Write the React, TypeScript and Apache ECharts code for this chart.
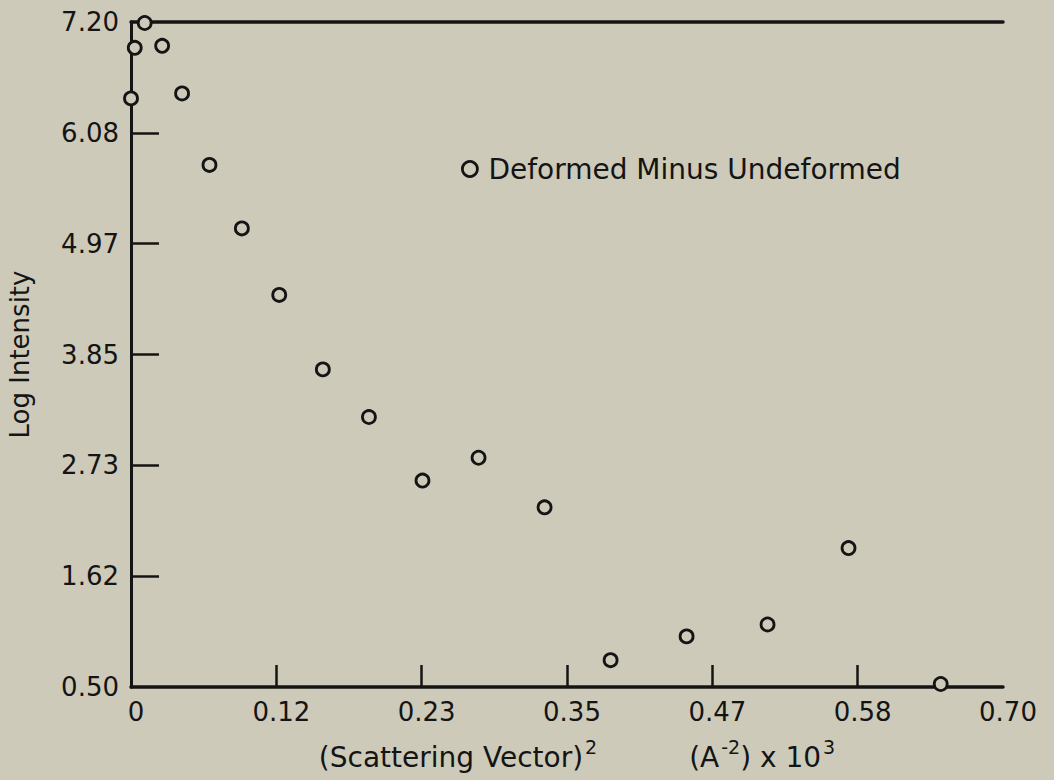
import React, { useEffect, useRef } from "react";
import * as echarts from "echarts";

// ---- data ----
const seriesName = "Deformed Minus Undeformed";
const xValues = [0.0, 0.003, 0.011, 0.025, 0.041, 0.063, 0.089, 0.119, 0.154, 0.191, 0.234, 0.279, 0.332, 0.385, 0.446, 0.511, 0.576, 0.65];
const yValues = [6.43, 6.94, 7.19, 6.96, 6.48, 5.76, 5.12, 4.45, 3.7, 3.22, 2.58, 2.81, 2.31, 0.77, 1.01, 1.13, 1.9, 0.53];
const xTickLabels = ["0", "0.12", "0.23", "0.35", "0.47", "0.58", "0.70"];
const yTickLabels = ["0.50", "1.62", "2.73", "3.85", "4.97", "6.08", "7.20"];
const xMin = 0;
const xMax = 0.7;
const yMin = 0.5;
const yMax = 7.2;

const BG = "#cdcab9";
const INK = "#141414";
const FONT = "DejaVu Sans";

export default function App() {
  const ref = useRef<HTMLDivElement>(null);
  useEffect(() => {
    if (!ref.current) return;
    const chart = echarts.init(ref.current, null, { renderer: "svg" });
    const xStep = (xMax - xMin) / (xTickLabels.length - 1);
    const yStep = (yMax - yMin) / (yTickLabels.length - 1);
    const xTickVals = xTickLabels.map((_, i) => xMin + i * xStep);
    const yTickVals = yTickLabels.map((_, i) => yMin + i * yStep);
    const xLabel = (v: number) => xTickLabels[Math.round((v - xMin) / xStep)] ?? "";
    const yLabel = (v: number) => yTickLabels[Math.round((v - yMin) / yStep)] ?? "";
    const data = xValues.map((x, i) => [x, yValues[i]]);

    chart.setOption({
      animation: false,
      backgroundColor: BG,
      textStyle: { fontFamily: FONT },
      grid: { left: 131, right: 51, top: 22, bottom: 93, containLabel: false, outerBoundsMode: "none" },
      legend: {
        show: true,
        left: 456,
        top: 150,
        itemWidth: 15,
        itemHeight: 15,
        data: [
          {
            name: seriesName,
            icon: "circle",
            itemStyle: { color: BG, borderColor: INK, borderWidth: 2.8 },
          },
        ],
        textStyle: { fontFamily: FONT, fontSize: 28, color: INK, padding: [0, 0, 0, 6] },
      },
      xAxis: [
        {
          type: "value",
          min: xMin,
          max: xMax,
          splitLine: { show: false },
          axisLine: { show: true, lineStyle: { color: INK, width: 3.5 } },
          axisTick: {
            show: true,
            inside: true,
            length: 22,
            lineStyle: { color: INK, width: 2.5 },
            customValues: xTickVals.slice(1, -1),
          },
          axisLabel: {
            show: true,
            customValues: xTickVals,
            formatter: xLabel,
            margin: 12,
            color: INK,
            fontFamily: FONT,
            fontSize: 26,
            padding: [0, 0, 0, 10],
          },
          name:
            "{a|(Scattering Vector)}{s|2}{g| }{a|(A}{s|-2}{a|) x 10}{s|3}",
          nameLocation: "middle",
          nameGap: 50,
          nameTextStyle: {
            color: INK,
            fontFamily: FONT,
            padding: [0, 0, 0, 20],
            rich: {
              a: { fontSize: 28, color: INK, fontFamily: FONT },
              s: { fontSize: 19, color: INK, fontFamily: FONT, padding: [0, 0, 22, 2] },
              g: { width: 92, fontSize: 28 },
            },
          },
        },
        {
          type: "value",
          position: "top",
          min: xMin,
          max: xMax,
          splitLine: { show: false },
          axisLine: { show: true, lineStyle: { color: INK, width: 3.5 } },
          axisTick: { show: false },
          axisLabel: { show: false },
        },
      ],
      yAxis: [
        {
          type: "value",
          min: yMin,
          max: yMax,
          splitLine: { show: false },
          axisLine: { show: true, lineStyle: { color: INK, width: 3 } },
          axisTick: {
            show: true,
            inside: true,
            length: 28,
            lineStyle: { color: INK, width: 2.5 },
            customValues: yTickVals.slice(1, -1),
          },
          axisLabel: {
            show: true,
            customValues: yTickVals,
            formatter: yLabel,
            margin: 12,
            color: INK,
            fontFamily: FONT,
            fontSize: 26,
          },
          name: "Log Intensity",
          nameLocation: "middle",
          nameGap: 98,
          nameTextStyle: { color: INK, fontFamily: FONT, fontSize: 26 },
        },
        {
          type: "value",
          position: "right",
          min: yMin,
          max: yMax,
          splitLine: { show: false },
          axisLine: { show: true, lineStyle: { color: INK, width: 3 } },
          axisTick: { show: false },
          axisLabel: { show: false },
        },
      ],
      series: [
        {
          name: seriesName,
          type: "scatter",
          xAxisIndex: 0,
          yAxisIndex: 0,
          symbol: "circle",
          symbolSize: 13,
          itemStyle: { color: BG, borderColor: INK, borderWidth: 2.8, opacity: 1 },
          data,
          z: 5,
        },
      ],
    });
    return () => chart.dispose();
  }, []);
  return (
    <div
      ref={ref}
      style={{ position: "fixed", left: 0, top: 0, width: 1054, height: 780, background: BG }}
    />
  );
}
